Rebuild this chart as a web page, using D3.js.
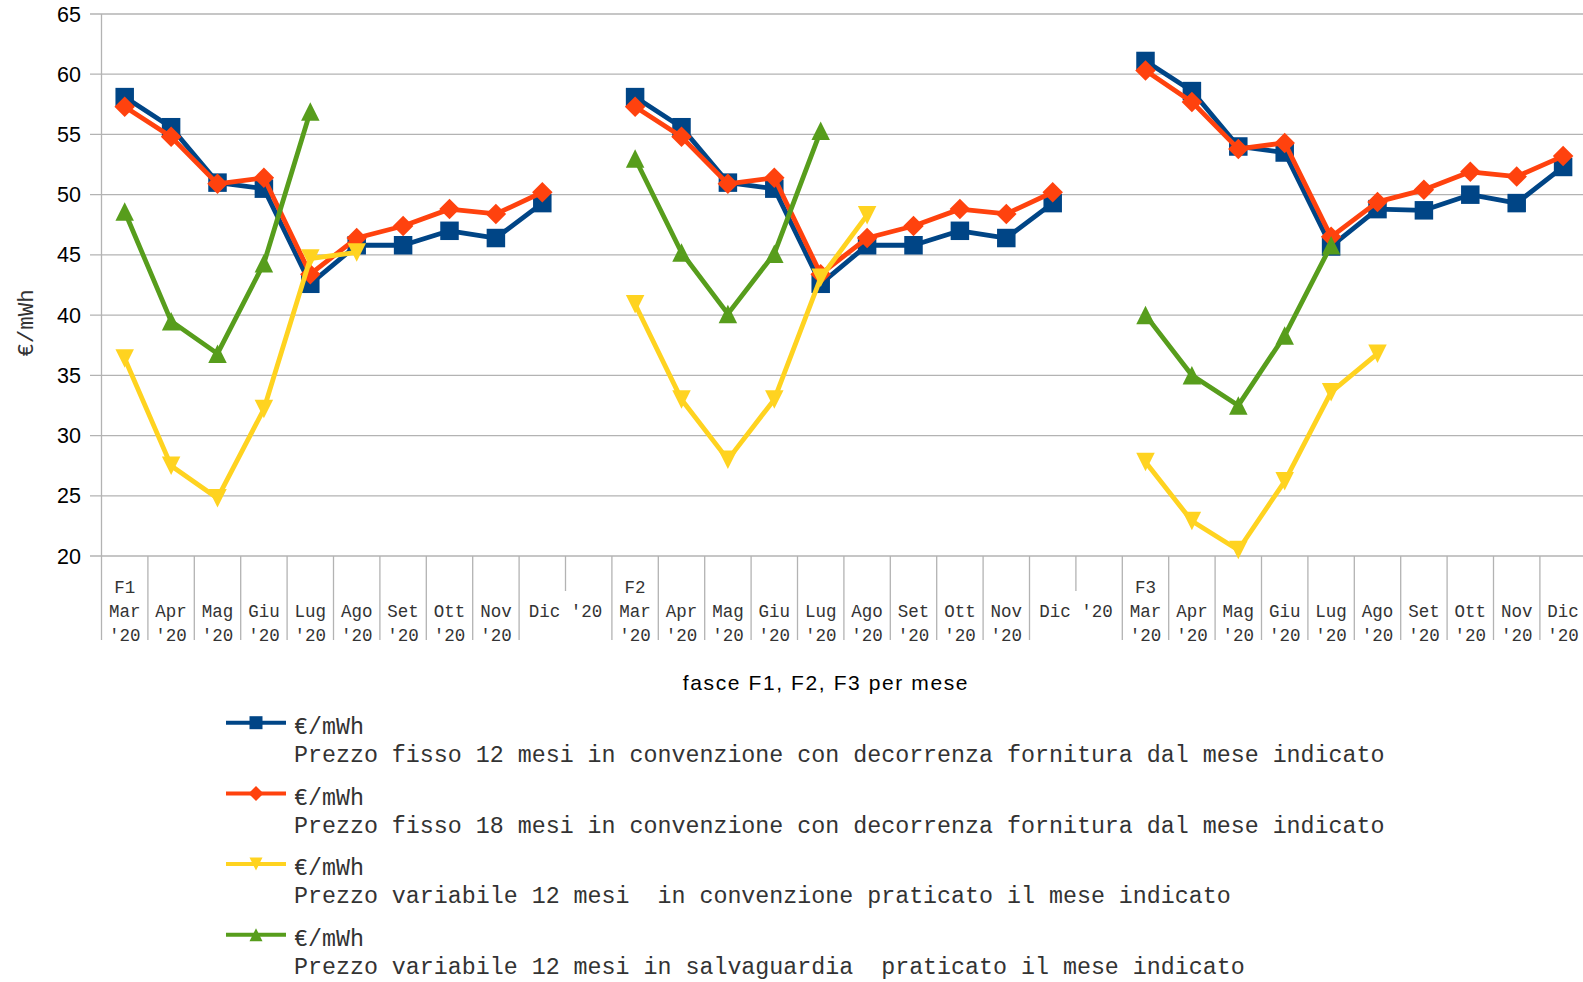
<!DOCTYPE html>
<html>
<head>
<meta charset="utf-8">
<script src="https://cdn.jsdelivr.net/npm/d3@7"></script>
<style>
  body { margin: 0; background: white; }
  text { white-space: pre; }
</style>
</head>
<body>
<div id="viz-container"></div>
<script>
// categories: F1 (10 months + blank), F2 (10 months + blank), F3 (10 months)
let categoryLabels = [
  "F1\nMar\n'20", "Apr\n'20", "Mag\n'20", "Giu\n'20", "Lug\n'20", "Ago\n'20", "Set\n'20", "Ott\n'20", "Nov\n'20", "Dic '20", "",
  "F2\nMar\n'20", "Apr\n'20", "Mag\n'20", "Giu\n'20", "Lug\n'20", "Ago\n'20", "Set\n'20", "Ott\n'20", "Nov\n'20", "Dic '20", "",
  "F3\nMar\n'20", "Apr\n'20", "Mag\n'20", "Giu\n'20", "Lug\n'20", "Ago\n'20", "Set\n'20", "Ott\n'20", "Nov\n'20", "Dic\n'20"
];

let yTicks = [20, 25, 30, 35, 40, 45, 50, 55, 60, 65];

// series values, null = no value
let fisso12 = [
  58.1, 55.6, 51.0, 50.5, 42.6, 45.8, 45.8, 47.0, 46.4, 49.3, null,
  58.1, 55.6, 51.0, 50.5, 42.6, 45.8, 45.8, 47.0, 46.4, 49.3, null,
  61.1, 58.6, 54.0, 53.5, 45.7, 48.8, 48.7, 50.0, 49.3, 52.3
];
let fisso18 = [
  57.3, 54.8, 50.9, 51.4, 43.4, 46.4, 47.4, 48.8, 48.4, 50.2, null,
  57.3, 54.8, 50.9, 51.4, 43.4, 46.4, 47.4, 48.8, 48.4, 50.2, null,
  60.3, 57.7, 53.8, 54.3, 46.5, 49.4, 50.4, 51.9, 51.5, 53.2
];
let variabile12 = [
  36.4, 27.5, 24.8, 32.2, 44.7, 45.2, null, null, null, null, null,
  40.9, 33.0, 28.0, 33.0, 43.1, 48.3, null, null, null, null, null,
  27.8, 22.9, 20.5, 26.2, 33.6, 36.8, null, null, null, null
];
let salvaguardia = [
  48.6, 39.5, 36.8, 44.3, 56.9, null, null, null, null, null, null,
  53.0, 45.2, 40.1, 45.1, 55.3, null, null, null, null, null, null,
  40.0, 35.0, 32.5, 38.3, 45.8, null, null, null, null, null
];

let seriesNames = [
  "Prezzo fisso 12 mesi in convenzione con decorrenza fornitura dal mese indicato",
  "Prezzo fisso 18 mesi in convenzione con decorrenza fornitura dal mese indicato",
  "Prezzo variabile 12 mesi  in convenzione praticato il mese indicato",
  "Prezzo variabile 12 mesi in salvaguardia  praticato il mese indicato"
];
let seriesColors = ["#004586", "#ff420e", "#ffd320", "#579d1c"];
let seriesShapes = ["square", "diamond", "down", "up"];
let seriesValues = [fisso12, fisso18, variabile12, salvaguardia];

let width = 1583, height = 982;
let plotLeft = 101.5, bandW = 46.4, plotTop = 14, plotBottom = 556;

function markerPath(shape, s){
  let h = s / 2;
  if (shape == "square"){
    return `M${-h},${-h}H${h}V${h}H${-h}Z`;
  } else if (shape == "diamond"){
    return `M0,${-h - 1}L${h + 1},0L0,${h + 1}L${-h - 1},0Z`;
  } else if (shape == "down"){
    return `M${-h},${-h}L${h},${-h}L0,${h}Z`;
  } else {
    return `M0,${-h}L${h},${h}L${-h},${h}Z`;
  }
}

let x = d3.scaleBand()
  .domain(d3.range(categoryLabels.length))
  .range([plotLeft, plotLeft + bandW * categoryLabels.length]);

let y = d3.scaleLinear()
  .domain([20, 65])
  .range([plotBottom, plotTop]);

let viz = d3.select("#viz-container")
  .append("svg")
    .attr("width", width)
    .attr("height", height)
;

// horizontal gridlines
viz.selectAll(".grid").data(yTicks)
  .enter()
    .append("line")
    .attr("class", "grid")
    .attr("x1", 90)
    .attr("x2", width)
    .attr("y1", d => y(d))
    .attr("y2", d => y(d))
    .attr("stroke", "#b3b3b3")
    .attr("stroke-width", 1.3)
;

// y axis line
viz.append("line")
  .attr("x1", plotLeft).attr("x2", plotLeft)
  .attr("y1", y(65)).attr("y2", y(20))
  .attr("stroke", "#b3b3b3")
  .attr("stroke-width", 1.3)
;

// y tick labels
viz.selectAll(".ylab").data(yTicks)
  .enter()
    .append("text")
    .attr("class", "ylab")
    .attr("x", 81)
    .attr("y", d => y(d) + 7.5)
    .attr("text-anchor", "end")
    .attr("font-family", "Liberation Sans, Arial, sans-serif")
    .attr("font-size", 21.5)
    .attr("fill", "#000")
    .text(d => d)
;

// category separators
let boundaries = d3.range(categoryLabels.length + 1);
viz.selectAll(".sep").data(boundaries)
  .enter()
    .append("line")
    .attr("class", "sep")
    .attr("x1", d => plotLeft + d * bandW)
    .attr("x2", d => plotLeft + d * bandW)
    .attr("y1", plotBottom)
    .attr("y2", d => (categoryLabels[d] === "" ? 591 : 640))
    .attr("stroke", "#b3b3b3")
    .attr("stroke-width", 1.3)
;

// category labels
let catGroups = viz.selectAll(".cat").data(categoryLabels)
  .enter()
    .append("text")
    .attr("class", "cat")
    .attr("font-family", "Liberation Mono, Courier New, monospace")
    .attr("font-size", 17.5)
    .attr("fill", "#333")
    .attr("text-anchor", "middle")
;
catGroups.each(function(d, i){
  let lines = d.split("\n");
  let cx = x(i) + x.bandwidth() / 2;
  if (lines.length == 1) cx = x(i) + x.bandwidth();
  let startRow = 3 - lines.length;
  if (lines.length == 1) startRow = 1;
  lines.forEach(function(t, j){
    d3.select(this).append("tspan")
      .attr("x", cx)
      .attr("y", 593 + (startRow + j) * 24)
      .text(t);
  }, this);
});

// series lines and markers
seriesValues.forEach(function(vals, s){
  let line = d3.line()
    .defined(d => d != null)
    .x((d, i) => x(i) + x.bandwidth() / 2)
    .y(d => y(d));

  viz.append("path")
    .datum(vals)
    .attr("d", line)
    .attr("fill", "none")
    .attr("stroke", seriesColors[s])
    .attr("stroke-width", 4.8)
    .attr("stroke-linejoin", "round")
  ;

  let pts = vals.map((v, i) => ({v: v, i: i})).filter(d => d.v != null);
  viz.selectAll(".m" + s).data(pts)
    .enter()
      .append("path")
      .attr("class", "m" + s)
      .attr("transform", d => "translate(" + (x(d.i) + x.bandwidth() / 2) + "," + y(d.v) + ")")
      .attr("d", markerPath(seriesShapes[s], 18.5))
      .attr("fill", seriesColors[s])
  ;
});

// axis titles
viz.append("text")
  .attr("x", 826)
  .attr("y", 690)
  .attr("text-anchor", "middle")
  .attr("font-family", "Liberation Sans, Arial, sans-serif")
  .attr("font-size", 21)
  .attr("letter-spacing", 1.6)
  .attr("fill", "#000")
  .text("fasce F1, F2, F3 per mese")
;

viz.append("text")
  .attr("transform", "translate(33,323) rotate(-90)")
  .attr("text-anchor", "middle")
  .attr("font-family", "Liberation Mono, Courier New, monospace")
  .attr("font-size", 22.5)
  .attr("fill", "#333")
  .text("€/mWh")
;

// legend
let legend = viz.selectAll(".legend").data(seriesNames)
  .enter()
    .append("g")
    .attr("class", "legend")
    .attr("transform", (d, i) => "translate(0," + (i * 70.7) + ")")
;
legend.append("line")
  .attr("x1", 226).attr("x2", 286)
  .attr("y1", 722.7).attr("y2", 722.7)
  .attr("stroke", (d, i) => seriesColors[i])
  .attr("stroke-width", 4)
;
legend.append("path")
  .attr("transform", "translate(256,722.7)")
  .attr("d", (d, i) => markerPath(seriesShapes[i], 13))
  .attr("fill", (d, i) => seriesColors[i])
;
legend.append("text")
  .attr("x", 294)
  .attr("y", 734)
  .attr("font-family", "Liberation Mono, Courier New, monospace")
  .attr("font-size", 23.3)
  .attr("fill", "#333")
  .text("€/mWh")
;
legend.append("text")
  .attr("x", 294)
  .attr("y", 762)
  .attr("font-family", "Liberation Mono, Courier New, monospace")
  .attr("font-size", 23.3)
  .attr("fill", "#333")
  .text(d => d)
;
</script>
</body>
</html>
